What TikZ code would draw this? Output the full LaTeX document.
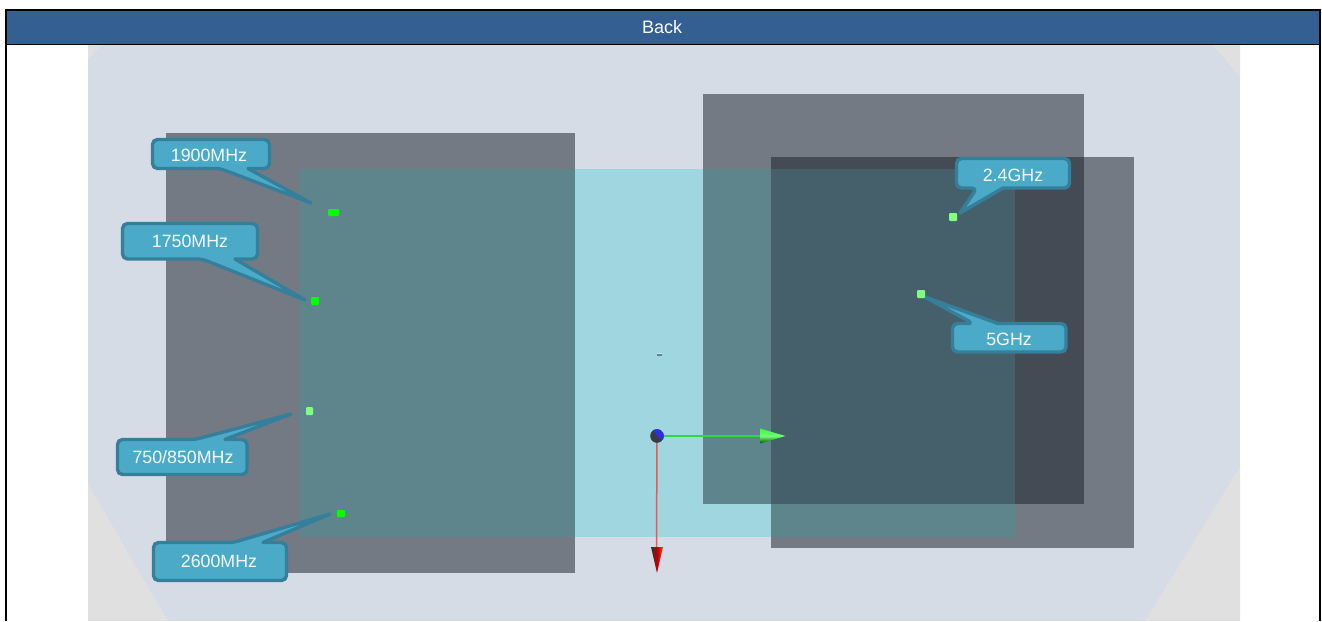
\documentclass[tikz,border=0pt]{standalone}
\usepackage{fontspec}
\setmainfont{Liberation Sans}
\definecolor{hdr}{HTML}{335F92}
\definecolor{bgpane}{HTML}{D5DCE6}
\definecolor{corner}{HTML}{E0E0E0}
\definecolor{slate}{HTML}{747A84}
\definecolor{cyanpane}{HTML}{A0D6E0}
\definecolor{teal}{HTML}{5F858C}
\definecolor{slatedark}{HTML}{454B54}
\definecolor{tealdark}{HTML}{45606A}
\definecolor{calloutfill}{HTML}{4AAAC8}
\definecolor{calloutline}{HTML}{367F9B}
\definecolor{dotbright}{HTML}{00FF00}
\definecolor{dotsoft}{HTML}{80FF80}
\definecolor{ballblue}{HTML}{2A2CF0}
\definecolor{balldark}{HTML}{3A3A48}
\definecolor{redline}{HTML}{E85A5A}
\definecolor{greenline}{HTML}{30D840}
\tikzset{
  x=1pt,y=-1pt,
  pane/.style={fill=#1,draw=none},
  callout/.style={fill=calloutfill,draw=calloutline,line width=3.4pt,line join=round},
  calloutlabel/.style={text=white!94!calloutfill,inner sep=0pt,font=\fontsize{17.8}{20}\selectfont},
  dot/.style={fill=#1,draw=none,rounded corners=1pt},
}
\newcommand{\calloutdown}[8]{%
  \draw[callout] (#5,#4) [sharp corners] -- (#6,#7) -- (#8,#4) [rounded corners=5pt] -- (#3,#4) -- (#3,#2) -- (#1,#2) -- (#1,#4) -- cycle;}
\newcommand{\calloutup}[8]{%
  \draw[callout] (#5,#2) [sharp corners] -- (#6,#7) -- (#8,#2) [rounded corners=5pt] -- (#3,#2) -- (#3,#4) -- (#1,#4) -- (#1,#2) -- cycle;}
\begin{document}
\begin{tikzpicture}
\useasboundingbox (0,0) rectangle (1322,621);
\fill[white] (0,0) rectangle (1322,621);
% backdrop
\fill[pane=bgpane] (88,45) rectangle (1240,621);
\fill[pane=corner] (88,45) -- (101,45) -- (88,60) -- cycle;
\fill[pane=corner] (1213,45) -- (1240,45) -- (1240,77) -- cycle;
\fill[pane=corner] (88,484) -- (168,621) -- (88,621) -- cycle;
\fill[pane=corner] (1240,467) -- (1240,621) -- (1145,621) -- cycle;
% panes
\fill[pane=slate] (166,133) rectangle (575,573);
\fill[pane=cyanpane] (299,169) rectangle (1015,537);
\fill[pane=teal] (299,169) rectangle (575,537);
\fill[pane=slate] (703,94) rectangle (1084,504);
\fill[pane=slate] (771,157) rectangle (1134,548);
\fill[pane=teal] (703,169) rectangle (1015,504);
\fill[pane=teal] (771,504) rectangle (1015,537);
\fill[pane=slatedark] (771,157) rectangle (1084,504);
\fill[pane=tealdark] (771,169) rectangle (1015,504);
% header
\fill[pane=hdr] (6,10) rectangle (1320,44);
\draw[black,line width=2pt] (6,621) -- (6,10) -- (1320,10) -- (1320,621);
\draw[black,line width=1.6pt] (6,44.3) -- (1320,44.3);
\node[text=white,inner sep=0pt,font=\fontsize{18}{20}\selectfont] (back) at (662,27) {Back};
% callouts
\calloutdown{152.5}{139.5}{269.5}{168.5}{220}{311}{203}{248}
\node[calloutlabel] (l1900) at (209,155) {1900MHz};
\calloutdown{122.5}{223.5}{257.5}{259}{202}{305}{300}{235}
\node[calloutlabel] (l1750) at (190,241) {1750MHz};
\calloutup{117.5}{439.5}{247}{474.5}{195}{291}{414}{225}
\node[calloutlabel] (l750) at (183,457) {750/850MHz};
\calloutup{153.5}{542.5}{286.5}{580.5}{233}{330}{514}{263}
\node[calloutlabel] (l2600) at (219,561) {2600MHz};
\calloutdown{956.5}{158.5}{1069.5}{188}{977}{960}{213}{1003}
\node[calloutlabel] (l24) at (1013,175) {2.4GHz};
\calloutup{952.5}{323.5}{1066}{352}{973}{925}{297}{998}
\node[calloutlabel] (l5) at (1009,339) {5GHz};
% dots
\fill[dot=dotbright] (328,209) rectangle (339,216);
\fill[dot=dotbright] (311,297) rectangle (319,305);
\fill[dot=dotsoft] (306,407) rectangle (313,415);
\fill[dot=dotbright] (337,510) rectangle (345,517);
\fill[dot=dotsoft] (949,213) rectangle (957,221);
\fill[dot=dotsoft] (917,290) rectangle (925,298);
% small mark
\fill[cyanpane!60!white] (657,352.5) rectangle (662,353.5);
\fill[teal] (657,353.5) rectangle (662,355.5);
% axes
\coordinate (origin) at (657,436);
\coordinate (xbase) at (760,436);
\coordinate (ybase) at (656.5,547);
\draw[greenline,line width=1.1pt] (origin) -- (xbase);
\draw[redline,line width=1.5pt] (origin) -- (ybase);
\shade[top color=green!80!white,bottom color=black!70!green,middle color=green!55!white] (760,428.5) -- (785.5,436) -- (760,443.5) -- cycle;
\shade[left color=black!80,right color=red!80!white,middle color=red!75!black] (651,547) -- (663,547) -- (657,573) -- cycle;
\begin{scope}
\clip (origin) circle (6.8);
\fill[balldark] (origin) circle (6.8);
\fill[ballblue] (651,429) -- (665,429) -- (665,443) -- cycle;
\end{scope}
\end{tikzpicture}
\end{document}
